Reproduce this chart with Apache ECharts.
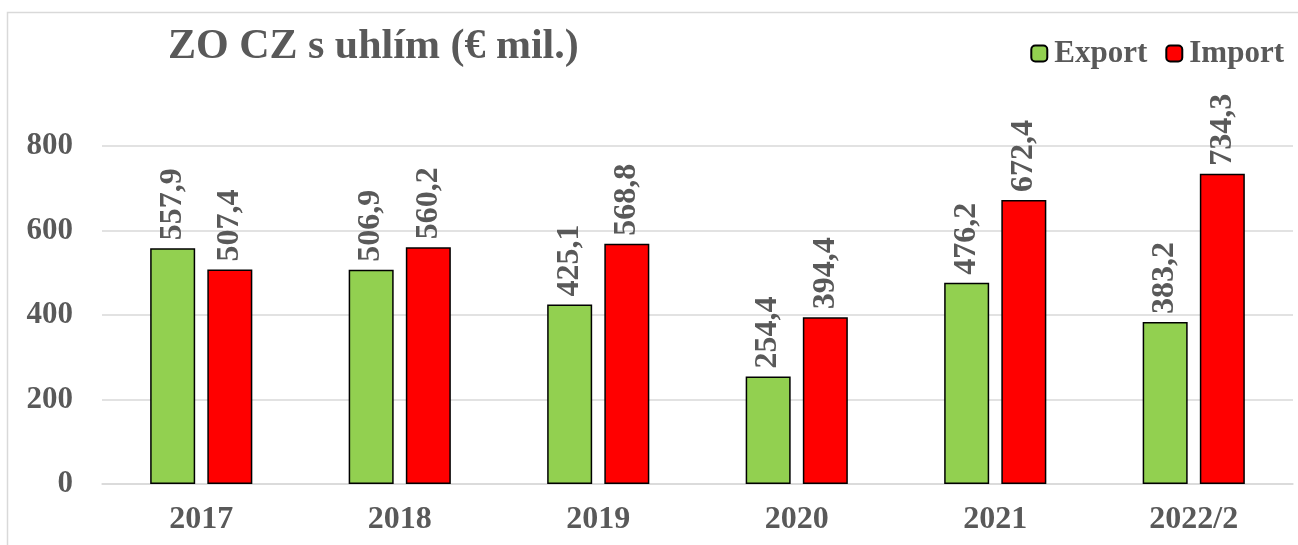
<!DOCTYPE html>
<html>
<head>
<meta charset="utf-8">
<script src="https://cdn.jsdelivr.net/npm/echarts@6/dist/echarts.min.js"></script>
<style>
  html, body { margin: 0; padding: 0; background: #fff; overflow: hidden; }
  #chart { width: 1298px; height: 545px; }
</style>
</head>
<body>
<div id="chart"></div>
<script>
// roky
const years = ['2017', '2018', '2019', '2020', '2021', '2022/2'];
// hodnoty v mil. EUR
const exportVals = [557.9, 506.9, 425.1, 254.4, 476.2, 383.2];
const importVals = [507.4, 560.2, 568.8, 394.4, 672.4, 734.3];
const yTicks = [0, 200, 400, 600, 800];

const serif = '"Liberation Serif", "Times New Roman", serif';
const txt = '#595959';

const labelOpt = {
    show: true,
    position: 'top',
    rotate: 90,
    align: 'left',
    verticalAlign: 'middle',
    distance: 8,
    color: txt,
    fontFamily: serif,
    fontWeight: 'bold',
    fontSize: 32,
    formatter: p => p.value.toFixed(1).replace('.', ',')
};

const chart = echarts.init(document.getElementById('chart'));
chart.setOption({
    animation: false,
    title: {
        text: 'ZO CZ s uhlím (€ mil.)',
        left: 163,
        top: 21,
        textStyle: { color: txt, fontFamily: serif, fontWeight: 'bold', fontSize: 42 }
    },
    legend: {
        right: 9,
        top: 33,
        itemWidth: 16,
        itemHeight: 16,
        itemGap: 18,
        textStyle: { color: txt, fontFamily: serif, fontWeight: 'bold', fontSize: 31, padding: [0, 0, 0, 2] },
        data: ['Export', 'Import']
    },
    graphic: [{
        type: 'rect',
        shape: { x: 7.5, y: 12.5, width: 1400, height: 600 },
        style: { fill: 'none', stroke: '#d9d9d9', lineWidth: 1.5 },
        silent: true
    }],
    grid: { left: 102, right: 5, top: 146, bottom: 61 },
    xAxis: {
        type: 'category',
        data: years,
        axisTick: { show: false },
        axisLine: { lineStyle: { color: '#d9d9d9', width: 1.5 } },
        axisLabel: { color: txt, fontFamily: serif, fontWeight: 'bold', fontSize: 32, margin: 20 }
    },
    yAxis: {
        type: 'value',
        min: yTicks[0],
        max: yTicks[yTicks.length - 1],
        interval: 200,
        axisLine: { show: false },
        axisTick: { show: false },
        splitLine: { lineStyle: { color: '#d9d9d9', width: 1.5 } },
        axisLabel: { color: txt, fontFamily: serif, fontWeight: 'bold', fontSize: 31, margin: 29 }
    },
    series: [
        {
            name: 'Export',
            type: 'bar',
            data: exportVals,
            barWidth: 45,
            barGap: '27%',
            itemStyle: { color: '#92d050', borderColor: '#000', borderWidth: 1.5 },
            label: labelOpt
        },
        {
            name: 'Import',
            type: 'bar',
            data: importVals,
            barWidth: 45,
            itemStyle: { color: '#ff0000', borderColor: '#000', borderWidth: 1.5 },
            label: labelOpt
        }
    ]
});
</script>
</body>
</html>
